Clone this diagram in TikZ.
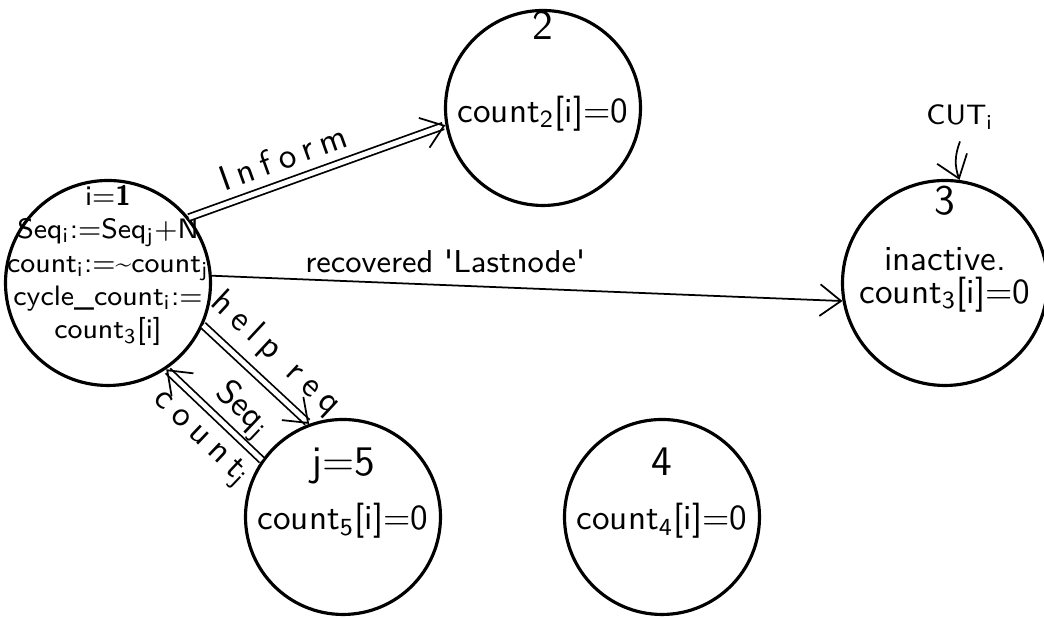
\documentclass[tikz,border=0pt]{standalone}
\usepackage{fontspec}
\usetikzlibrary{positioning,arrows.meta}
\newfontfamily\spacedsf[LetterSpace=22]{lmsans10-regular.otf}

\newcommand{\low}[1]{$_{\mathsf{#1}}$}
\newcommand{\inside}[1]{\makebox[0pt]{\smash{\begin{tabular}{@{}c@{}}#1\end{tabular}}}}

\begin{document}
\begin{tikzpicture}[->,>={Straight Barb[length=6pt,width=9pt]},auto,
  state/.style={-,circle,draw,line width=0.9pt,minimum size=1.95cm,inner sep=0pt,font=\sffamily},
  link/.style={double,double distance=1.4pt,line width=0.5pt}]
  \useasboundingbox (0,0) rectangle (10.44,6.19);

  \node[state,minimum size=2.05cm,font=\sffamily\footnotesize] (1) at (1.08,3.36)
    {\inside{i=\textbf{1}\\ Seq\low{i}:=Seq\low{j}+N\\ count\low{i}:=\textasciitilde count\low{j}\\
      cycle\_count\low{i}:=\\ count\low{3}[i]\\[6pt]}};
  \node[state] (2) at (5.43,5.11) {\inside{{\large 2}\\[11.5pt] count\low{2}[i]=0\\[3pt] \mbox{}}};
  \node[state,minimum size=2.05cm] (3) at (9.45,3.36) {\inside{{\large 3}\\[4pt] inactive.\\[-2.6pt] count\low{3}[i]=0\\[1.5pt] \mbox{}}};
  \node[state] (5) at (3.43,1.02) {\inside{{\large j=5}\\[3.6pt] count\low{5}[i]=0\\[-4pt] \mbox{}}};
  \node[state] (4) at (6.62,1.02) {\inside{{\large 4}\\[3.6pt] count\low{4}[i]=0\\[-4pt] \mbox{}}};
  \node[font=\sffamily\footnotesize] (cut) at (9.6,5.02) {CUT\low{i}};

  \path[line width=0.5pt,every node/.style={font=\sffamily}]
    (1.39) edge[link] node[sloped,above,pos=0.4] (inform) {\spacedsf Inform} (2.190)
    (1.4) edge node[above,pos=0.37,font=\sffamily\small] (recov) {recovered \textquotesingle Lastnode\textquotesingle} (3.190)
    (1.-24) edge[link] node[sloped,above,pos=0.5] (help) {\spacedsf help req} (5.110)
    (5.145) edge[link] node[sloped,above,pos=0.37,inner sep=1pt] (seq) {Seq\low{j}}
      node[sloped,below,pos=0.45] (cnt) {\spacedsf count\low{j}} (1.-56)
    (cut.south) edge[bend right=20] (3.82);
\end{tikzpicture}
\end{document}
